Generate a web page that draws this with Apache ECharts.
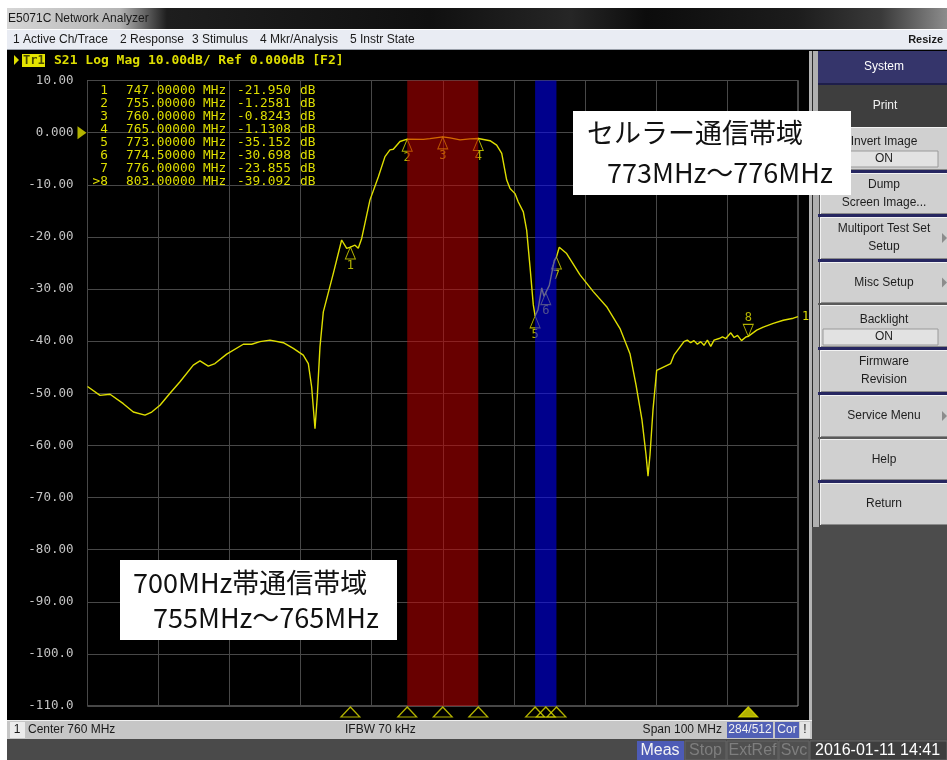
<!DOCTYPE html>
<html>
<head>
<meta charset="utf-8">
<script src="https://cdn.jsdelivr.net/npm/echarts@6/dist/echarts.min.js"></script>
<style>
  html, body { margin: 0; padding: 0; background: #ffffff; }
  #c { width: 947px; height: 760px; }
</style>
</head>
<body>
<div id="c"></div>
<script>
// S21 sweep, center 760 MHz, span 100 MHz
const freqMHz = [
  710.00, 711.76, 713.17, 715.04, 716.45, 718.09, 719.04, 720.20, 721.61, 723.02,
  724.89, 725.83, 727.00, 727.94, 729.59, 731.93, 733.11, 734.28, 735.68, 737.56,
  738.97, 740.37, 741.08, 741.55, 742.02, 742.34, 742.72, 743.19, 744.60, 745.77,
  746.48, 747.00, 747.65, 748.11, 748.59, 749.76, 750.93, 751.87, 752.57, 753.04,
  753.98, 755.00, 757.26, 758.20, 760.00, 761.02, 762.43, 763.84, 765.00, 766.65,
  767.59, 768.30, 769.00, 769.47, 770.17, 770.63, 771.34, 771.81, 772.28, 772.74,
  773.00, 773.40, 773.93, 774.25, 774.50, 775.00, 775.70, 776.00, 776.40, 777.44,
  779.32, 781.19, 783.07, 784.95, 786.35, 787.20, 788.04, 788.61, 788.89, 789.17,
  789.59, 790.11, 792.08, 792.54, 793.95, 794.42, 794.89, 795.36, 795.84, 796.30,
  796.77, 797.25, 797.72, 798.19, 798.89, 799.37, 799.84, 800.54, 801.01, 801.49,
  802.05, 802.66, 803.00, 804.19, 805.11, 806.52, 807.93, 809.34, 810.00
];
const s21dB = [
  -48.7, -50.4, -50.2, -52.0, -53.6, -54.2, -53.6, -52.3, -50.0, -47.8,
  -44.6, -43.8, -44.8, -44.3, -42.5, -40.6, -40.6, -40.1, -39.8, -40.3,
  -41.4, -42.7, -44.3, -48.8, -56.8, -50.7, -41.1, -34.4, -27.0, -20.6,
  -22.2, -21.95, -21.6, -22.2, -20.3, -12.9, -8.5, -4.6, -3.3, -3.2,
  -1.7, -1.258, -1.3, -1.15, -0.824, -1.0, -1.4, -1.2, -1.131, -1.55,
  -2.4, -4.0, -9.1, -10.7, -11.7, -13.3, -15.2, -18.7, -25.7, -33.0,
  -35.152, -34.0, -29.8, -31.4, -30.698, -29.3, -24.5, -23.855, -22.0, -23.2,
  -27.3, -30.5, -33.4, -37.6, -42.4, -48.4, -55.1, -61.8, -65.9, -61.8,
  -53.2, -45.6, -44.3, -42.7, -40.1, -39.8, -40.3, -39.9, -40.6, -40.1,
  -40.8, -39.8, -41.0, -39.8, -39.5, -39.2, -39.5, -38.4, -39.3, -38.9,
  -39.9, -39.2, -39.092, -37.9, -37.3, -36.6, -36.0, -35.6, -35.3
];

// Markers
const markerIds = ['1', '2', '3', '4', '5', '6', '7', '8'];
const markerFreq = [747, 755, 760, 765, 773, 774.5, 776, 803];
const markerDb = [-21.950, -1.2581, -0.8243, -1.1308, -35.152, -30.698, -23.855, -39.092];
const activeMarker = '8';

// Highlighted bands (MHz)
const bandStart = [755, 773];
const bandEnd = [765, 776];

// Axes
const xMin = 710, xMax = 810;
const yTicks = [10, 0, -10, -20, -30, -40, -50, -60, -70, -80, -90, -100, -110];
const yTickLabels = ['10.00', '0.000', '-10.00', '-20.00', '-30.00', '-40.00', '-50.00',
  '-60.00', '-70.00', '-80.00', '-90.00', '-100.0', '-110.0'];
const yMin = -110, yMax = 10;

const YEL = '#dede00';
const MONO = '"DejaVu Sans Mono", monospace';
const UI = '"Liberation Sans", Arial, sans-serif';
const CJK = '"Noto Sans CJK JP", sans-serif';

const trace = freqMHz.map((f, i) => [f, s21dB[i]]);

// ---------- screen chrome ----------
const G = [];
function rect(x, y, w, h, fill, z, stroke) {
  G.push({ type: 'rect', z: z || 1, silent: true, shape: { x, y, width: w, height: h },
    style: { fill, stroke: stroke || null, lineWidth: stroke ? 1 : 0 } });
}
function text(x, y, str, fill, font, align, z) {
  G.push({ type: 'text', z: z || 2, silent: true, x, y,
    style: { text: str, fill, font, align: align || 'left', verticalAlign: 'middle',
      textAlign: align || 'left', textVerticalAlign: 'middle' } });
}
function tri(points, fill, z, stroke) {
  G.push({ type: 'polygon', z: z || 2, silent: true, shape: { points },
    style: { fill, stroke: stroke || null, lineWidth: stroke ? 1 : 0 } });
}

// outer margins
rect(0, 0, 947, 8, '#ffffff', 1);
rect(0, 0, 7, 760, '#ffffff', 1);

// window title bar
G.push({ type: 'rect', z: 1, silent: true, shape: { x: 7, y: 8, width: 940, height: 21 },
  style: { fill: { type: 'linear', x: 0, y: 0, x2: 1, y2: 0, colorStops: [
    { offset: 0, color: '#d6d6d6' }, { offset: 0.12, color: '#b4b4b4' },
    { offset: 0.17, color: '#1e1e1e' }, { offset: 0.45, color: '#101010' },
    { offset: 0.6, color: '#262626' }, { offset: 0.68, color: '#0c0c0c' },
    { offset: 0.84, color: '#1c1c1c' }, { offset: 0.93, color: '#3a3a3a' },
    { offset: 1, color: '#8c8c8c' } ] } } });
text(8, 19, 'E5071C Network Analyzer', '#1a1a1a', '12px ' + UI);

// menu bar
rect(7, 29, 940, 21, '#e9ecf3', 1);
rect(7, 29, 940, 1, '#ffffff', 1);
rect(7, 49, 940, 1, '#9aa0aa', 1);
const menuItems = ['1 Active Ch/Trace', '2 Response', '3 Stimulus', '4 Mkr/Analysis', '5 Instr State'];
const menuX = [13, 120, 192, 260, 350];
menuItems.forEach((m, i) => text(menuX[i], 40, m, '#1a1a1a', '12px ' + UI));
text(943, 40, 'Resize', '#1a1a1a', 'bold 11px ' + UI, 'right');

// right border of the graph window
rect(809, 51, 3, 669, '#b4b4b4', 1);

// right softkey panel
rect(812, 51, 135, 709, '#4c4c4c', 1);
rect(812, 51, 7, 476, '#b0b0b0', 1);
rect(812, 51, 1, 476, '#2a2a2a', 1);
rect(818, 51, 129, 32, '#35356b', 1);
text(884, 67, 'System', '#ffffff', '12px ' + UI, 'center');
rect(818, 83, 129, 2, '#1e1e4a', 1);
rect(818, 85, 129, 42, '#3e3e3e', 1);
text(885, 106, 'Print', '#f2f2f2', '12px ' + UI, 'center');

const keys = [
  { y0: 127, y1: 170, lines: ['Invert Image'], box: 'ON', sep: 'navy' },
  { y0: 173, y1: 214, lines: ['Dump', 'Screen Image...'], sep: 'navy' },
  { y0: 217, y1: 259, lines: ['Multiport Test Set', 'Setup'], sep: 'navy', arrow: true },
  { y0: 262, y1: 303, lines: ['Misc Setup'], sep: 'grey', arrow: true },
  { y0: 305, y1: 347, lines: ['Backlight'], box: 'ON', sep: 'navy' },
  { y0: 350, y1: 392, lines: ['Firmware', 'Revision'], sep: 'navy' },
  { y0: 395, y1: 437, lines: ['Service Menu'], sep: 'grey', arrow: true },
  { y0: 439, y1: 480, lines: ['Help'], sep: 'navy' },
  { y0: 483, y1: 525, lines: ['Return'], sep: 'none' }
];
keys.forEach(k => {
  const h = k.y1 - k.y0;
  rect(820, k.y0, 127, h, '#d0d0d0', 1);
  rect(820, k.y0, 127, 1, '#f2f2f2', 1);
  rect(820, k.y1 - 1, 127, 1, '#8a8a8a', 1);
  rect(820, k.y0, 1, h, '#f2f2f2', 1);
  if (k.sep === 'navy') rect(818, k.y1, 129, 3, '#262660', 1);
  if (k.sep === 'grey') rect(818, k.y1, 129, 2, '#5a5a5a', 1);
  const cx = 884;
  if (k.box) {
    text(cx, k.y0 + 15, k.lines[0], '#1e1e1e', '12px ' + UI, 'center');
    rect(823, k.y0 + 24, 115, 16, '#e2e2e2', 1, '#9a9a9a');
    text(cx, k.y0 + 32, k.box, '#1e1e1e', '12px ' + UI, 'center');
  } else if (k.lines.length === 2) {
    text(cx, k.y0 + h / 2 - 9, k.lines[0], '#1e1e1e', '12px ' + UI, 'center');
    text(cx, k.y0 + h / 2 + 9, k.lines[1], '#1e1e1e', '12px ' + UI, 'center');
  } else {
    text(cx, k.y0 + h / 2, k.lines[0], '#1e1e1e', '12px ' + UI, 'center');
  }
  if (k.arrow) {
    const my = k.y0 + h / 2;
    tri([[942, my - 5], [947, my], [942, my + 5]], '#8c8c8c', 2);
  }
});

// channel status bar
rect(7, 720, 805, 19, '#c6c6c6', 1);
rect(7, 720, 805, 1, '#efefef', 1);
rect(10, 722, 15, 16, '#ececec', 1);
text(17, 730, '1', '#1a1a1a', '12px ' + UI, 'center');
text(28, 730, 'Center 760 MHz', '#1a1a1a', '12px ' + UI);
text(345, 730, 'IFBW 70 kHz', '#1a1a1a', '12px ' + UI);
text(722, 730, 'Span 100 MHz', '#1a1a1a', '12px ' + UI, 'right');
rect(727, 722, 46, 16, '#5160b6', 1);
text(750, 730, '284/512', '#f2f2f2', '12px ' + UI, 'center');
rect(775, 722, 24, 16, '#5160b6', 1);
text(787, 730, 'Cor', '#f2f2f2', '12px ' + UI, 'center');
rect(800, 722, 10, 16, '#e4e4e4', 1);
text(805, 730, '!', '#1a1a1a', '12px ' + UI, 'center');

// instrument status bar
rect(7, 739, 940, 21, '#4a4a4a', 1);
rect(637, 741, 47, 19, '#4d5bb6', 1);
text(660, 751, 'Meas', '#f4f4f4', '16px ' + UI, 'center');
[[685, 726, 'Stop'], [727, 778, 'ExtRef'], [779, 809, 'Svc']].forEach(b => {
  rect(b[0], 741, b[1] - b[0], 19, '#505050', 1, '#646464');
  text((b[0] + b[1]) / 2, 751, b[2], '#7e7e7e', '16px ' + UI, 'center');
});
rect(810, 741, 137, 19, '#3e3e3e', 1, '#646464');
text(815, 751, '2016-01-11 14:41', '#ffffff', '16px ' + UI);

// trace header line
tri([[14, 55], [19, 60], [14, 65]], YEL, 3);
rect(22, 54, 23, 13, '#e4e400', 3);
text(23, 60.5, 'Tr1', '#4a4a00', 'bold 12px ' + MONO, 'left', 4);
text(54, 60.5, 'S21 Log Mag 10.00dB/ Ref 0.000dB [F2]', YEL, 'bold 13px ' + MONO, 'left', 4);

// marker readout table
markerIds.forEach((id, i) => {
  const y = 91 + i * 12.95;
  const f = markerFreq[i], v = markerDb[i];
  const vs = Math.abs(v) >= 10 ? v.toFixed(3) : v.toFixed(4);
  text(108, y, (id === activeMarker ? '>' : '') + id, YEL, '12.8px ' + MONO, 'right', 20);
  text(126, y, f.toFixed(5) + ' MHz', YEL, '12.8px ' + MONO, 'left', 20);
  text(237, y, vs, YEL, '12.8px ' + MONO, 'left', 20);
  text(300, y, 'dB', YEL, '12.8px ' + MONO, 'left', 20);
});

// band notes
rect(573, 111, 278, 84, '#ffffff', 100);
text(587, 133, 'セルラー通信帯域', '#111111', '27px ' + CJK, 'left', 101);
text(607, 173, '773MHz～776MHz', '#111111', '27px ' + CJK, 'left', 101);
rect(120, 560, 277, 80, '#ffffff', 100);
text(133, 583, '700MHz帯通信帯域', '#111111', '27px ' + CJK, 'left', 101);
text(153, 618, '755MHz～765MHz', '#111111', '27px ' + CJK, 'left', 101);

// ---------- chart ----------
const UP = 'path://M5,0 L10,12 L0,12 Z';
const DOWN = 'path://M0,0 L10,0 L5,12 Z';
const RIGHT = 'path://M0,0 L10,6 L0,12 Z';

const markerPoints = markerIds.map((id, i) => {
  const active = id === activeMarker;
  return {
    value: [markerFreq[i], markerDb[i]],
    name: id,
    symbol: active ? DOWN : UP,
    symbolOffset: active ? [0, -6] : [0, 6],
    label: { position: active ? 'top' : 'bottom' }
  };
});

const footPoints = markerIds.map((id, i) => ({
  value: [markerFreq[i], yMin],
  itemStyle: id === activeMarker ? { color: YEL } : { color: 'transparent' }
}));

const bandColors = ['rgba(200,0,0,0.52)', 'rgba(0,0,255,0.55)'];

const chart = echarts.init(document.getElementById('c'), null, { width: 947, height: 760 });
chart.setOption({
  animation: false,
  backgroundColor: '#000000',
  graphic: { elements: G },
  grid: {
    left: 87.5, top: 80.5, right: 149, bottom: 54,
    show: true, borderColor: '#8c8c8c', borderWidth: 1, backgroundColor: 'transparent',
    containLabel: false, outerBoundsMode: 'none'
  },
  xAxis: {
    type: 'value', min: xMin, max: xMax, interval: 10,
    axisLabel: { show: false }, axisTick: { show: false }, axisLine: { show: false },
    splitLine: { show: true, lineStyle: { color: '#484848', width: 1 } }
  },
  yAxis: {
    type: 'value', min: yMin, max: yMax, interval: 10,
    axisTick: { show: false }, axisLine: { show: false },
    splitLine: { show: true, lineStyle: { color: '#484848', width: 1 } },
    axisLabel: {
      margin: 14, fontFamily: MONO, fontSize: 12.5,
      color: v => (v === 0 ? YEL : '#c4c4c4'),
      formatter: v => yTickLabels[yTicks.indexOf(v)]
    }
  },
  series: [
    {
      type: 'line', data: trace, z: 2, showSymbol: false, symbol: 'none', smooth: false,
      lineStyle: { color: YEL, width: 1.4 },
      endLabel: { show: true, formatter: '1', color: YEL, fontFamily: MONO, fontSize: 12, distance: 4 },
      silent: true
    },
    {
      type: 'scatter', z: 3, clip: false, silent: true,
      data: markerPoints, symbolSize: [10, 12],
      itemStyle: { color: 'transparent', borderColor: YEL, borderWidth: 1 },
      label: { show: true, formatter: p => p.name, color: YEL, fontFamily: MONO, fontSize: 12, distance: 0 }
    },
    {
      type: 'scatter', z: 3, clip: false, silent: true,
      data: footPoints, symbol: UP, symbolSize: [19, 10], symbolOffset: [0, 6],
      itemStyle: { borderColor: YEL, borderWidth: 1.2 }
    },
    {
      type: 'scatter', z: 3, clip: false, silent: true,
      data: [[xMin, 0]], symbol: RIGHT, symbolSize: [9, 13], symbolOffset: [-5.5, 0],
      itemStyle: { color: YEL }
    },
    {
      type: 'custom', z: 5, silent: true, clip: false,
      data: bandStart.map((s, i) => [s, bandEnd[i], i]),
      encode: { x: [0, 1] },
      renderItem: (params, api) => {
        const p0 = api.coord([api.value(0), yMax]);
        const p1 = api.coord([api.value(1), yMin]);
        return {
          type: 'rect',
          shape: { x: p0[0], y: p0[1], width: p1[0] - p0[0], height: p1[1] - p0[1] },
          style: { fill: bandColors[api.value(2)] }
        };
      }
    }
  ]
});
</script>
</body>
</html>
